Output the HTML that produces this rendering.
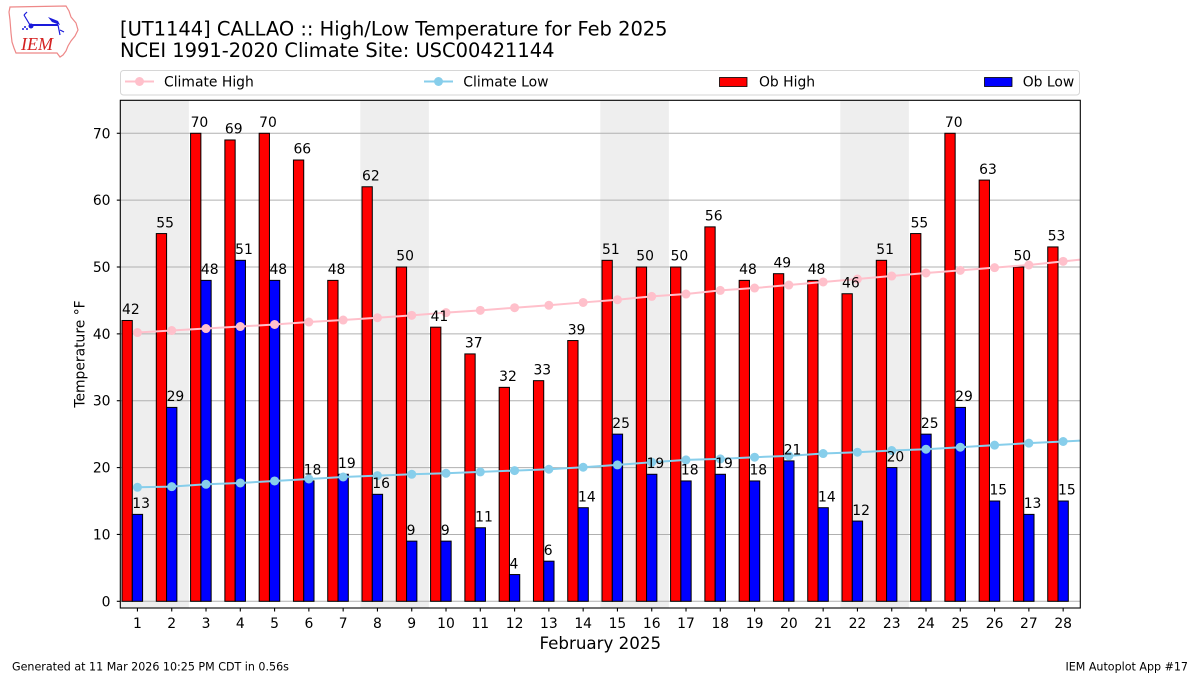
<!DOCTYPE html>
<html><head><meta charset="utf-8"><style>
html,body{margin:0;padding:0;background:#fff;}
svg{display:block;font-family:"DejaVu Sans","Liberation Sans",sans-serif;}
</style></head><body>
<svg width="1200" height="675" viewBox="0 0 1200 675" xmlns="http://www.w3.org/2000/svg">
<rect x="0" y="0" width="1200" height="675" fill="#fff"/>
<defs><clipPath id="ax"><rect x="120.3" y="100.3" width="960" height="507.7"/></clipPath></defs>

<!-- logo -->
<g>
<polygon points="10,7 66,6 69,11 71,17 76,23 78,30 75,36 71,41 68,46 66,51 63,55 60,57 57,53 16,53 14,48 12,42 11,33 10,20 9,12" fill="#fff" stroke="#e88" stroke-width="1.2"/>
<line x1="30" y1="25" x2="58" y2="25" stroke="#1a1adb" stroke-width="2"/>
<circle cx="31" cy="26" r="2.5" fill="#1a1adb"/>
<line x1="30" y1="25" x2="24" y2="15" stroke="#1a1adb" stroke-width="1.2"/>
<line x1="24" y1="15" x2="27" y2="12" stroke="#1a1adb" stroke-width="1.2"/>
<polygon points="48,17 58,21 60,25 52,22" fill="#1a1adb"/>
<line x1="58" y1="25" x2="60" y2="35" stroke="#1a1adb" stroke-width="1.2"/>
<line x1="60" y1="30" x2="64" y2="32" stroke="#1a1adb" stroke-width="1.2"/>
<circle cx="25" cy="27" r="1" fill="#1a1adb"/><circle cx="23" cy="29" r="1" fill="#1a1adb"/><circle cx="27" cy="29" r="1" fill="#1a1adb"/>
<text x="21" y="50" font-family="Liberation Serif,serif" font-style="italic" font-size="18" fill="#d42020">IEM</text>
</g>

<!-- title -->
<text x="120" y="35.5" font-size="19.45" fill="#000">[UT1144] CALLAO :: High/Low Temperature for Feb 2025</text>
<text x="120" y="57.2" font-size="19.45" fill="#000">NCEI 1991-2020 Climate Site: USC00421144</text>

<!-- legend -->
<rect x="120.5" y="70.5" width="959" height="24.5" rx="3" fill="#fff" stroke="#d6d6d6" stroke-width="1"/>
<line x1="125" y1="81.5" x2="154" y2="81.5" stroke="#ffc0cb" stroke-width="2"/>
<circle cx="139.5" cy="81.5" r="4.5" fill="#ffc0cb"/>
<text x="164" y="86.5" font-size="13.9">Climate High</text>
<line x1="424" y1="81.5" x2="453" y2="81.5" stroke="#87ceeb" stroke-width="2"/>
<circle cx="438.5" cy="81.5" r="4.5" fill="#87ceeb"/>
<text x="463.3" y="86.5" font-size="13.9">Climate Low</text>
<rect x="719.5" y="77.5" width="27.5" height="9" fill="#ff0000" stroke="#000" stroke-width="0.8"/>
<text x="759" y="86.5" font-size="13.9">Ob High</text>
<rect x="984.5" y="77.5" width="27.5" height="9" fill="#0000ff" stroke="#000" stroke-width="0.8"/>
<text x="1022.7" y="86.5" font-size="13.9">Ob Low</text>

<!-- shading -->
<g fill="#eeeeee">
<rect x="120.3" y="100.3" width="68.6" height="507.7"/>
<rect x="360.3" y="100.3" width="68.6" height="507.7"/>
<rect x="600.3" y="100.3" width="68.6" height="507.7"/>
<rect x="840.3" y="100.3" width="68.6" height="507.7"/>
</g>

<!-- grid -->
<g stroke="#b0b0b0" stroke-width="1">
<line x1="120.3" x2="1080.3" y1="601.3" y2="601.3"/>
<line x1="120.3" x2="1080.3" y1="534.44" y2="534.44"/>
<line x1="120.3" x2="1080.3" y1="467.58" y2="467.58"/>
<line x1="120.3" x2="1080.3" y1="400.72" y2="400.72"/>
<line x1="120.3" x2="1080.3" y1="333.86" y2="333.86"/>
<line x1="120.3" x2="1080.3" y1="267.0" y2="267.0"/>
<line x1="120.3" x2="1080.3" y1="200.14" y2="200.14"/>
<line x1="120.3" x2="1080.3" y1="133.28" y2="133.28"/>
</g>

<!-- red bars -->
<g fill="#ff0000" stroke="#000" stroke-width="1">
<rect x="122.01" y="320.49" width="10.29" height="280.81"/>
<rect x="156.30" y="233.57" width="10.29" height="367.73"/>
<rect x="190.58" y="133.28" width="10.29" height="468.02"/>
<rect x="224.87" y="139.97" width="10.29" height="461.33"/>
<rect x="259.16" y="133.28" width="10.29" height="468.02"/>
<rect x="293.44" y="160.02" width="10.29" height="441.28"/>
<rect x="327.73" y="280.37" width="10.29" height="320.93"/>
<rect x="362.01" y="186.77" width="10.29" height="414.53"/>
<rect x="396.30" y="267.0" width="10.29" height="334.3"/>
<rect x="430.58" y="327.17" width="10.29" height="274.13"/>
<rect x="464.87" y="353.92" width="10.29" height="247.38"/>
<rect x="499.16" y="387.35" width="10.29" height="213.95"/>
<rect x="533.44" y="380.66" width="10.29" height="220.64"/>
<rect x="567.73" y="340.55" width="10.29" height="260.75"/>
<rect x="602.01" y="260.31" width="10.29" height="340.99"/>
<rect x="636.30" y="267.0" width="10.29" height="334.3"/>
<rect x="670.58" y="267.0" width="10.29" height="334.3"/>
<rect x="704.87" y="226.88" width="10.29" height="374.42"/>
<rect x="739.16" y="280.37" width="10.29" height="320.93"/>
<rect x="773.44" y="273.69" width="10.29" height="327.61"/>
<rect x="807.73" y="280.37" width="10.29" height="320.93"/>
<rect x="842.01" y="293.74" width="10.29" height="307.56"/>
<rect x="876.30" y="260.31" width="10.29" height="340.99"/>
<rect x="910.58" y="233.57" width="10.29" height="367.73"/>
<rect x="944.87" y="133.28" width="10.29" height="468.02"/>
<rect x="979.16" y="180.08" width="10.29" height="421.22"/>
<rect x="1013.44" y="267.0" width="10.29" height="334.3"/>
<rect x="1047.73" y="246.94" width="10.29" height="354.36"/>
</g>

<!-- blue bars -->
<g fill="#0000ff" stroke="#000" stroke-width="1">
<rect x="132.30" y="514.38" width="10.29" height="86.92"/>
<rect x="166.59" y="407.41" width="10.29" height="193.89"/>
<rect x="200.87" y="280.37" width="10.29" height="320.93"/>
<rect x="235.16" y="260.31" width="10.29" height="340.99"/>
<rect x="269.45" y="280.37" width="10.29" height="320.93"/>
<rect x="303.73" y="480.95" width="10.29" height="120.35"/>
<rect x="338.02" y="474.27" width="10.29" height="127.03"/>
<rect x="372.30" y="494.32" width="10.29" height="106.98"/>
<rect x="406.59" y="541.13" width="10.29" height="60.17"/>
<rect x="440.87" y="541.13" width="10.29" height="60.17"/>
<rect x="475.16" y="527.75" width="10.29" height="73.55"/>
<rect x="509.45" y="574.56" width="10.29" height="26.74"/>
<rect x="543.73" y="561.18" width="10.29" height="40.12"/>
<rect x="578.02" y="507.7" width="10.29" height="93.6"/>
<rect x="612.30" y="434.15" width="10.29" height="167.15"/>
<rect x="646.59" y="474.27" width="10.29" height="127.03"/>
<rect x="680.87" y="480.95" width="10.29" height="120.35"/>
<rect x="715.16" y="474.27" width="10.29" height="127.03"/>
<rect x="749.45" y="480.95" width="10.29" height="120.35"/>
<rect x="783.73" y="460.89" width="10.29" height="140.41"/>
<rect x="818.02" y="507.7" width="10.29" height="93.6"/>
<rect x="852.30" y="521.07" width="10.29" height="80.23"/>
<rect x="886.59" y="467.58" width="10.29" height="133.72"/>
<rect x="920.87" y="434.15" width="10.29" height="167.15"/>
<rect x="955.16" y="407.41" width="10.29" height="193.89"/>
<rect x="989.45" y="501.01" width="10.29" height="100.29"/>
<rect x="1023.73" y="514.38" width="10.29" height="86.92"/>
<rect x="1058.02" y="501.01" width="10.29" height="100.29"/>
</g>

<!-- climate lines -->
<g clip-path="url(#ax)">
<polyline fill="none" stroke="#ffc0cb" stroke-width="2" points="137.44,332.52 171.73,330.52 206.01,328.51 240.30,326.51 274.59,324.5 308.87,322.03 343.16,320.03 377.44,317.69 411.73,315.34 446.01,312.67 480.30,310.33 514.59,307.72 548.87,305.31 583.16,302.44 617.44,299.70 651.73,296.42 686.01,294.01 720.30,290.4 754.59,288.06 788.87,285.05 823.16,281.98 857.44,279.03 891.73,276.03 926.01,273.0 960.30,270.34 994.59,267.67 1028.87,265.0 1063.16,261.32 1097.44,257.98"/>
<g fill="#ffc0cb">
<circle cx="137.44" cy="332.52" r="4.5"/><circle cx="171.73" cy="330.52" r="4.5"/><circle cx="206.01" cy="328.51" r="4.5"/><circle cx="240.30" cy="326.51" r="4.5"/><circle cx="274.59" cy="324.5" r="4.5"/><circle cx="308.87" cy="322.03" r="4.5"/><circle cx="343.16" cy="320.03" r="4.5"/><circle cx="377.44" cy="317.69" r="4.5"/><circle cx="411.73" cy="315.34" r="4.5"/><circle cx="446.01" cy="312.67" r="4.5"/><circle cx="480.30" cy="310.33" r="4.5"/><circle cx="514.59" cy="307.72" r="4.5"/><circle cx="548.87" cy="305.31" r="4.5"/><circle cx="583.16" cy="302.44" r="4.5"/><circle cx="617.44" cy="299.70" r="4.5"/><circle cx="651.73" cy="296.42" r="4.5"/><circle cx="686.01" cy="294.01" r="4.5"/><circle cx="720.30" cy="290.4" r="4.5"/><circle cx="754.59" cy="288.06" r="4.5"/><circle cx="788.87" cy="285.05" r="4.5"/><circle cx="823.16" cy="281.98" r="4.5"/><circle cx="857.44" cy="279.03" r="4.5"/><circle cx="891.73" cy="276.03" r="4.5"/><circle cx="926.01" cy="273.0" r="4.5"/><circle cx="960.30" cy="270.34" r="4.5"/><circle cx="994.59" cy="267.67" r="4.5"/><circle cx="1028.87" cy="265.0" r="4.5"/><circle cx="1063.16" cy="261.32" r="4.5"/>
</g>
<polyline fill="none" stroke="#87ceeb" stroke-width="2" points="137.44,487.30 171.73,486.64 206.01,484.30 240.30,482.96 274.59,480.95 308.87,478.95 343.16,476.94 377.44,475.60 411.73,474.27 446.01,473.26 480.30,471.92 514.59,470.59 548.87,469.25 583.16,467.25 617.44,464.91 651.73,462.23 686.01,459.89 720.30,458.89 754.59,457.22 788.87,455.88 823.16,453.54 857.44,452.20 891.73,450.53 926.01,449.19 960.30,447.19 994.59,445.18 1028.87,443.17 1063.16,441.50 1097.44,439.83"/>
<g fill="#87ceeb">
<circle cx="137.44" cy="487.30" r="4.5"/><circle cx="171.73" cy="486.64" r="4.5"/><circle cx="206.01" cy="484.30" r="4.5"/><circle cx="240.30" cy="482.96" r="4.5"/><circle cx="274.59" cy="480.95" r="4.5"/><circle cx="308.87" cy="478.95" r="4.5"/><circle cx="343.16" cy="476.94" r="4.5"/><circle cx="377.44" cy="475.60" r="4.5"/><circle cx="411.73" cy="474.27" r="4.5"/><circle cx="446.01" cy="473.26" r="4.5"/><circle cx="480.30" cy="471.92" r="4.5"/><circle cx="514.59" cy="470.59" r="4.5"/><circle cx="548.87" cy="469.25" r="4.5"/><circle cx="583.16" cy="467.25" r="4.5"/><circle cx="617.44" cy="464.91" r="4.5"/><circle cx="651.73" cy="462.23" r="4.5"/><circle cx="686.01" cy="459.89" r="4.5"/><circle cx="720.30" cy="458.89" r="4.5"/><circle cx="754.59" cy="457.22" r="4.5"/><circle cx="788.87" cy="455.88" r="4.5"/><circle cx="823.16" cy="453.54" r="4.5"/><circle cx="857.44" cy="452.20" r="4.5"/><circle cx="891.73" cy="450.53" r="4.5"/><circle cx="926.01" cy="449.19" r="4.5"/><circle cx="960.30" cy="447.19" r="4.5"/><circle cx="994.59" cy="445.18" r="4.5"/><circle cx="1028.87" cy="443.17" r="4.5"/><circle cx="1063.16" cy="441.50" r="4.5"/>
</g>
</g>

<!-- bar labels -->
<g font-size="13.9" fill="#000">
<text x="122.01" y="314.2">42</text>
<text x="156.30" y="227.3">55</text>
<text x="190.58" y="127.0">70</text>
<text x="224.87" y="133.7">69</text>
<text x="259.16" y="127.0">70</text>
<text x="293.44" y="153.7">66</text>
<text x="327.73" y="274.1">48</text>
<text x="362.01" y="180.5">62</text>
<text x="396.30" y="260.7">50</text>
<text x="430.58" y="320.9">41</text>
<text x="464.87" y="347.6">37</text>
<text x="499.16" y="381.1">32</text>
<text x="533.44" y="374.4">33</text>
<text x="567.73" y="334.3">39</text>
<text x="602.01" y="254.0">51</text>
<text x="636.30" y="260.7">50</text>
<text x="670.58" y="260.7">50</text>
<text x="704.87" y="220.6">56</text>
<text x="739.16" y="274.1">48</text>
<text x="773.44" y="267.4">49</text>
<text x="807.73" y="274.1">48</text>
<text x="842.01" y="287.4">46</text>
<text x="876.30" y="254.0">51</text>
<text x="910.58" y="227.3">55</text>
<text x="944.87" y="127.0">70</text>
<text x="979.16" y="173.8">63</text>
<text x="1013.44" y="260.7">50</text>
<text x="1047.73" y="240.6">53</text>

<text x="132.30" y="508.1">13</text>
<text x="166.59" y="401.1">29</text>
<text x="200.87" y="274.1">48</text>
<text x="235.16" y="254.0">51</text>
<text x="269.45" y="274.1">48</text>
<text x="303.73" y="474.7">18</text>
<text x="338.02" y="468.0">19</text>
<text x="372.30" y="488.0">16</text>
<text x="406.59" y="534.8">9</text>
<text x="440.87" y="534.8">9</text>
<text x="475.16" y="521.5">11</text>
<text x="509.45" y="568.3">4</text>
<text x="543.73" y="554.9">6</text>
<text x="578.02" y="501.4">14</text>
<text x="612.30" y="427.9">25</text>
<text x="646.59" y="468.0">19</text>
<text x="680.87" y="474.7">18</text>
<text x="715.16" y="468.0">19</text>
<text x="749.45" y="474.7">18</text>
<text x="783.73" y="454.6">21</text>
<text x="818.02" y="501.4">14</text>
<text x="852.30" y="514.8">12</text>
<text x="886.59" y="461.3">20</text>
<text x="920.87" y="427.9">25</text>
<text x="955.16" y="401.1">29</text>
<text x="989.45" y="494.7">15</text>
<text x="1023.73" y="508.1">13</text>
<text x="1058.02" y="494.7">15</text>
</g>

<!-- axes frame -->
<rect x="120.3" y="100.3" width="960" height="507.7" fill="none" stroke="#000" stroke-width="1.1"/>

<!-- y ticks -->
<g stroke="#000" stroke-width="1.1">
<line x1="116.8" x2="120.3" y1="601.3" y2="601.3"/>
<line x1="116.8" x2="120.3" y1="534.44" y2="534.44"/>
<line x1="116.8" x2="120.3" y1="467.58" y2="467.58"/>
<line x1="116.8" x2="120.3" y1="400.72" y2="400.72"/>
<line x1="116.8" x2="120.3" y1="333.86" y2="333.86"/>
<line x1="116.8" x2="120.3" y1="267.0" y2="267.0"/>
<line x1="116.8" x2="120.3" y1="200.14" y2="200.14"/>
<line x1="116.8" x2="120.3" y1="133.28" y2="133.28"/>
</g>
<g font-size="13.9" text-anchor="end">
<text x="110.5" y="606.3">0</text>
<text x="110.5" y="539.4">10</text>
<text x="110.5" y="472.6">20</text>
<text x="110.5" y="405.7">30</text>
<text x="110.5" y="338.9">40</text>
<text x="110.5" y="272.0">50</text>
<text x="110.5" y="205.1">60</text>
<text x="110.5" y="138.3">70</text>
</g>

<!-- x ticks -->
<g stroke="#000" stroke-width="1.1">
<line x1="137.44" x2="137.44" y1="608" y2="611.5"/><line x1="171.73" x2="171.73" y1="608" y2="611.5"/><line x1="206.01" x2="206.01" y1="608" y2="611.5"/><line x1="240.30" x2="240.30" y1="608" y2="611.5"/><line x1="274.59" x2="274.59" y1="608" y2="611.5"/><line x1="308.87" x2="308.87" y1="608" y2="611.5"/><line x1="343.16" x2="343.16" y1="608" y2="611.5"/><line x1="377.44" x2="377.44" y1="608" y2="611.5"/><line x1="411.73" x2="411.73" y1="608" y2="611.5"/><line x1="446.01" x2="446.01" y1="608" y2="611.5"/><line x1="480.30" x2="480.30" y1="608" y2="611.5"/><line x1="514.59" x2="514.59" y1="608" y2="611.5"/><line x1="548.87" x2="548.87" y1="608" y2="611.5"/><line x1="583.16" x2="583.16" y1="608" y2="611.5"/><line x1="617.44" x2="617.44" y1="608" y2="611.5"/><line x1="651.73" x2="651.73" y1="608" y2="611.5"/><line x1="686.01" x2="686.01" y1="608" y2="611.5"/><line x1="720.30" x2="720.30" y1="608" y2="611.5"/><line x1="754.59" x2="754.59" y1="608" y2="611.5"/><line x1="788.87" x2="788.87" y1="608" y2="611.5"/><line x1="823.16" x2="823.16" y1="608" y2="611.5"/><line x1="857.44" x2="857.44" y1="608" y2="611.5"/><line x1="891.73" x2="891.73" y1="608" y2="611.5"/><line x1="926.01" x2="926.01" y1="608" y2="611.5"/><line x1="960.30" x2="960.30" y1="608" y2="611.5"/><line x1="994.59" x2="994.59" y1="608" y2="611.5"/><line x1="1028.87" x2="1028.87" y1="608" y2="611.5"/><line x1="1063.16" x2="1063.16" y1="608" y2="611.5"/>
</g>
<g font-size="13.9" text-anchor="middle">
<text x="137.44" y="628">1</text><text x="171.73" y="628">2</text><text x="206.01" y="628">3</text><text x="240.30" y="628">4</text><text x="274.59" y="628">5</text><text x="308.87" y="628">6</text><text x="343.16" y="628">7</text><text x="377.44" y="628">8</text><text x="411.73" y="628">9</text><text x="446.01" y="628">10</text><text x="480.30" y="628">11</text><text x="514.59" y="628">12</text><text x="548.87" y="628">13</text><text x="583.16" y="628">14</text><text x="617.44" y="628">15</text><text x="651.73" y="628">16</text><text x="686.01" y="628">17</text><text x="720.30" y="628">18</text><text x="754.59" y="628">19</text><text x="788.87" y="628">20</text><text x="823.16" y="628">21</text><text x="857.44" y="628">22</text><text x="891.73" y="628">23</text><text x="926.01" y="628">24</text><text x="960.30" y="628">25</text><text x="994.59" y="628">26</text><text x="1028.87" y="628">27</text><text x="1063.16" y="628">28</text>
</g>

<!-- axis labels -->
<text transform="translate(84.5,354) rotate(-90)" font-size="13.9" text-anchor="middle">Temperature °F</text>
<text x="600.3" y="649" font-size="16.7" text-anchor="middle">February 2025</text>

<!-- footer -->
<text x="12" y="670.5" font-size="11.1">Generated at 11 Mar 2026 10:25 PM CDT in 0.56s</text>
<text x="1188" y="670.5" font-size="11.1" text-anchor="end">IEM Autoplot App #17</text>
</svg>
</body></html>
